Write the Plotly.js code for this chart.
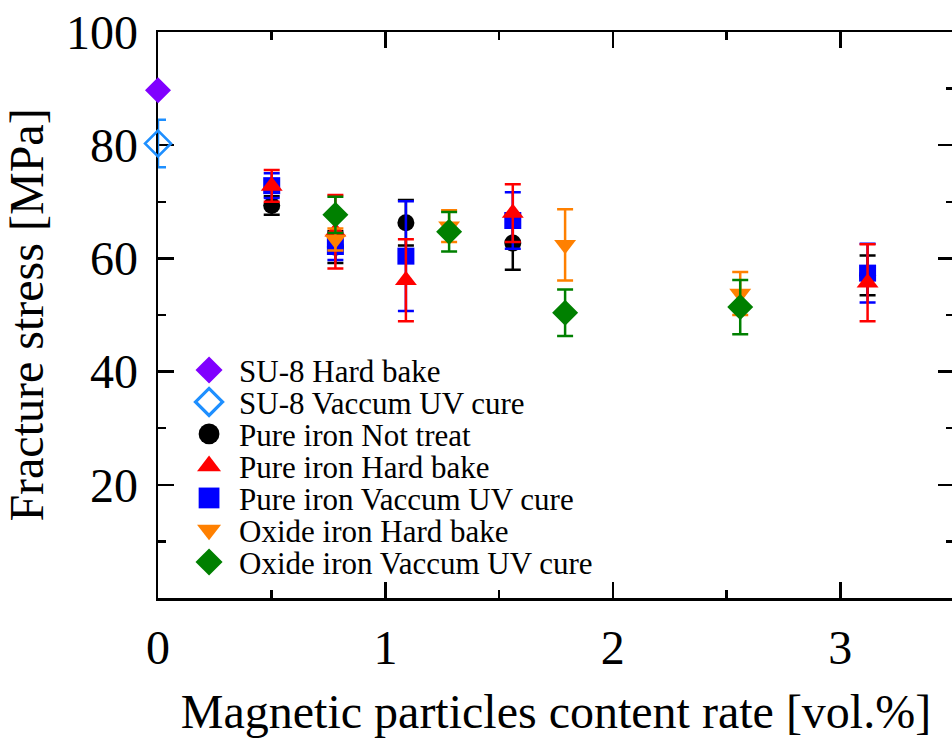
<!DOCTYPE html>
<html>
<head>
<meta charset="utf-8">
<script src="https://cdn.plot.ly/plotly-3.0.1.min.js"></script>
<style>
html, body { margin: 0; padding: 0; overflow: hidden; background: #fff; }
#chart { width: 960px; height: 738px; }
</style>
</head>
<body>
<div id="chart"></div>
<script>
// ---- data ----
const su8HardX = [0];
const su8HardY = [89.7];

const su8UvX = [0];
const su8UvY = [80.3];
const su8UvErr = [4.2];

const pureX = [0.5, 0.78, 1.09, 1.56, 3.12];
const pureNotY = [69.35, 62.0, 66.3, 62.7, 57.0];
const pureNotErr = [1.65, 2.8, 4.0, 4.7, 3.5];
const pureHardY = [72.8, 64.7, 56.15, 68.0, 55.7];
const pureHardErr = [2.8, 6.5, 7.25, 5.1, 6.8];
const pureUvY = [72.85, 62.1, 60.4, 66.7, 57.4];
const pureUvErr = [2.2, 2.4, 9.7, 5.0, 5.2];

const oxideX = [0.78, 1.28, 1.79, 2.56];
const oxideHardY = [63.35, 65.7, 62.4, 53.8];
const oxideHardErr = [1.95, 2.8, 6.3, 3.8];
const oxideUvY = [67.7, 64.7, 50.4, 51.4];
const oxideUvErr = [3.2, 3.5, 4.1, 4.8];

const xTicks = [0, 1, 2, 3];
const xMinor = [0.5, 1.5, 2.5];
const yTicks = [20, 40, 60, 80, 100];
const yMinor = [10, 30, 50, 70, 90];

// ---- traces ----
function errBar(arr, color) {
  return { type: 'data', array: arr, visible: true, color: color, thickness: 2.5, width: 8 };
}
function tr(name, x, y, err, symbol, color, size, rank, lineColor) {
  const t = {
    type: 'scatter', mode: 'markers', name: name, x: x, y: y,
    cliponaxis: false, legendrank: rank,
    marker: { symbol: symbol, color: color, size: size },
    hoverinfo: 'skip'
  };
  if (lineColor) t.marker.line = { color: lineColor, width: 2.5 };
  else t.marker.line = { width: 0 };
  if (err) t.error_y = errBar(err, color);
  return t;
}

const data = [
  tr('SU-8 Hard bake', su8HardX, su8HardY, null, 'diamond', '#8000ff', 20, 1),
  tr('SU-8 Vaccum UV cure', su8UvX, su8UvY, su8UvErr, 'diamond-open', '#1e8fff', 20, 2, '#1e8fff'),
  tr('Pure iron Not treat', pureX, pureNotY, pureNotErr, 'circle', '#000000', 17, 3),
  tr('Pure iron Vaccum UV cure', pureX, pureUvY, pureUvErr, 'square', '#0000ff', 17, 5),
  tr('Pure iron Hard bake', pureX, pureHardY, pureHardErr, 'triangle-up', '#ff0000', 19, 4),
  tr('Oxide iron Hard bake', oxideX, oxideHardY, oxideHardErr, 'triangle-down', '#ff8000', 19, 6),
  tr('Oxide iron Vaccum UV cure', oxideX, oxideUvY, oxideUvErr, 'diamond', '#008000', 20, 7)
];

const fontFam = '"Liberation Serif", "Times New Roman", serif';

const axisCommon = {
  showline: true, linecolor: '#000', linewidth: 2.5, mirror: 'ticks',
  ticks: 'inside', ticklen: 16, tickwidth: 2.5, tickcolor: '#000',
  showgrid: false, zeroline: false, layer: 'below traces',
  tickfont: { family: fontFam, size: 48, color: '#000' }
};

const layout = {
  width: 960, height: 738,
  margin: { l: 158, r: 6, t: 32, b: 140 },
  paper_bgcolor: '#fff', plot_bgcolor: '#fff',
  font: { family: fontFam, color: '#000' },
  showlegend: true,
  legend: {
    x: 0.039, y: 0.45, xanchor: 'left', yanchor: 'top',
    bgcolor: 'rgba(0,0,0,0)', borderwidth: 0,
    font: { family: fontFam, size: 31, color: '#000' },
    traceorder: 'normal'
  },
  xaxis: Object.assign({}, axisCommon, {
    range: [0, 3.5], tickmode: 'array', tickvals: xTicks,
    ticktext: xTicks.map(String),
    ticklabelstandoff: 6,
    minor: { tickmode: 'array', tickvals: xMinor, ticks: 'inside', ticklen: 8, tickwidth: 2.5, tickcolor: '#000' },
    title: { text: 'Magnetic particles content rate [vol.%]', font: { family: fontFam, size: 48, color: '#000' }, standoff: 30 }
  }),
  yaxis: Object.assign({}, axisCommon, {
    range: [0, 100], tickmode: 'array', tickvals: yTicks,
    ticktext: yTicks.map(String),
    ticklabelstandoff: 8,
    minor: { tickmode: 'array', tickvals: yMinor, ticks: 'inside', ticklen: 8, tickwidth: 2.5, tickcolor: '#000' },
    title: { text: 'Fracture stress [MPa]', font: { family: fontFam, size: 48, color: '#000' }, standoff: 14 }
  })
};

Plotly.newPlot('chart', data, layout, { staticPlot: true, responsive: false }).then(function (gd) {
  const legend = gd.querySelector('.legend');
  if (!legend) return;
  // let the adjusted legend draw outside its original clip box
  legend.querySelectorAll('[clip-path]').forEach(function (el) { el.removeAttribute('clip-path'); });
  // tighten the legend row spacing to match the reference (about 32 px per row)
  const items = legend.querySelectorAll('.traces');
  if (!items.length) return;
  const m = /translate\(\s*([-\d.]+)[ ,]+([-\d.]+)\s*\)/.exec(items[0].getAttribute('transform') || '');
  const x0 = m ? parseFloat(m[1]) : 0;
  const y0 = m ? parseFloat(m[2]) : 0;
  items.forEach(function (g, i) {
    g.setAttribute('transform', 'translate(' + x0 + ',' + (y0 + i * 32) + ')');
    // wider gap between symbol and text, and larger symbols, as in the reference
    g.querySelectorAll('text.legendtext').forEach(function (t) {
      const tx = parseFloat(t.getAttribute('x') || '0');
      t.setAttribute('x', tx + 10);
    });
    g.querySelectorAll('.legendpoints path').forEach(function (p) {
      const tf = p.getAttribute('transform') || '';
      p.setAttribute('transform', tf + ' scale(1.3)');
    });
  });
});
</script>
</body>
</html>
